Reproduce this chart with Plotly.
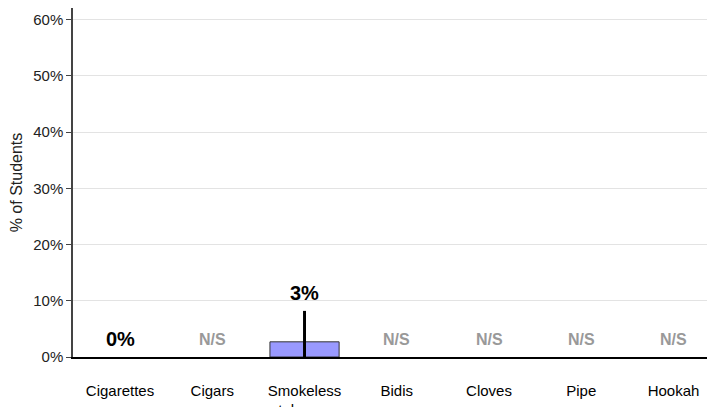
import plotly.graph_objects as go

categories = ["Cigarettes", "Cigars", "Smokeless<br>tobacco", "Bidis", "Cloves", "Pipe", "Hookah"]
values = [0.0, None, 2.7, None, None, None, None]
err_plus = [0.0, None, 5.5, None, None, None, None]
err_minus = [0.0, None, 2.7, None, None, None, None]
labels = ["0%", "N/S", "3%", "N/S", "N/S", "N/S", "N/S"]
label_y = [0.0, 0.0, 8.2, 0.0, 0.0, 0.0, 0.0]
yticks = [0, 10, 20, 30, 40, 50, 60]

font = "Liberation Sans, Arial, sans-serif"

fig = go.Figure()
fig.add_trace(go.Bar(
    x=categories, y=values,
    width=0.75,
    marker=dict(color="#9999FF", line=dict(color="#333333",
                width=[0 if (v is None or v == 0) else 1 for v in values])),
    error_y=dict(type="data", symmetric=False,
                 array=err_plus, arrayminus=err_minus,
                 color="black", thickness=3, width=0, visible=True),
    hoverinfo="skip",
))

for c, lab, ly in zip(categories, labels, label_y):
    ns = lab == "N/S"
    fig.add_annotation(
        x=c, y=ly, text=f"<b>{lab}</b>", showarrow=False,
        yanchor="middle", yshift=18,
        font=dict(family=font, size=16 if ns else 20, color="#999999" if ns else "black"),
    )

# page body has an 8px default margin: compensate in the figure margins
fig.update_layout(
    width=707, height=399,
    margin=dict(l=65, r=0, t=0, b=50),
    paper_bgcolor="white", plot_bgcolor="white",
    showlegend=False,
    font=dict(family=font, size=15, color="#222222"),
)
fig.update_xaxes(
    range=[-0.51, 6.45],
    showline=True, linecolor="black", linewidth=1.5,
    showgrid=False, ticks="", tickfont=dict(size=15, color="black"),
    ticklabelstandoff=19, automargin=False,
)
fig.update_yaxes(
    range=[0, 62.08],
    tickvals=yticks, ticktext=[f"{t}%" for t in yticks],
    showline=True, linecolor="#444444", linewidth=1.5,
    ticks="outside", ticklen=5, tickcolor="#444444",
    showgrid=True, gridcolor="#e3e3e3", gridwidth=1,
    zeroline=False, automargin=False,
    tickfont=dict(size=15, color="#222222"),
    title=dict(text="% of Students", font=dict(size=16, color="#222222"), standoff=17),
)

fig.write_html("out.html")
